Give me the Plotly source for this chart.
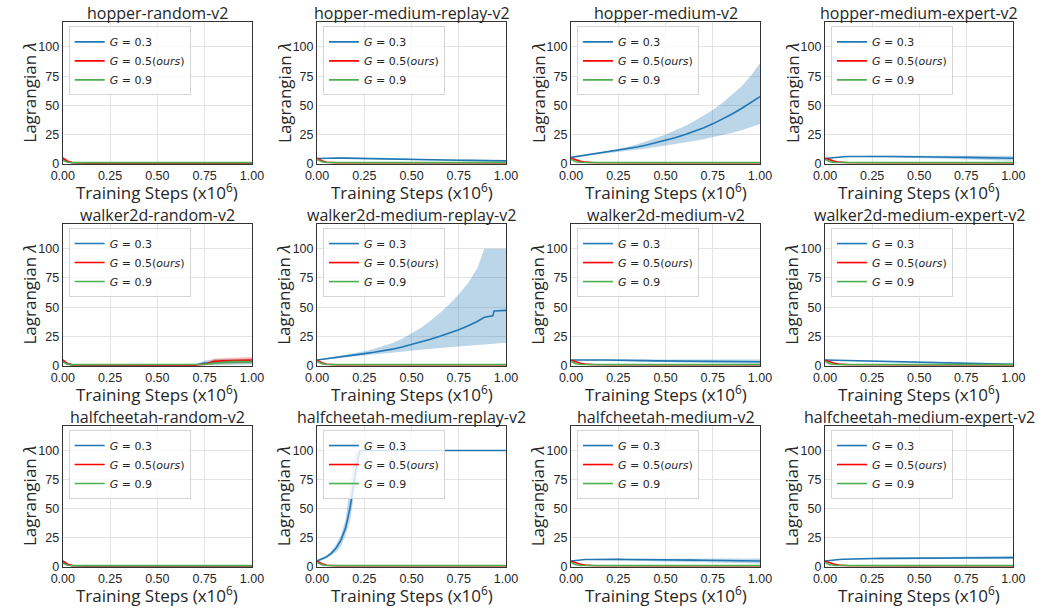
import plotly.graph_objects as go

# ---------------- data ----------------
X = [0.0, 0.025, 0.05, 0.075, 0.1, 0.125, 0.15, 0.175, 0.2, 0.225, 0.25, 0.3, 0.35,
     0.4, 0.45, 0.5, 0.55, 0.6, 0.65, 0.7, 0.75, 0.8, 0.85, 0.9, 0.95, 1.0]

X_TICKS = [0, 0.25, 0.5, 0.75, 1.0]
X_TICK_TEXT = ["0.00", "0.25", "0.50", "0.75", "1.00"]
Y_TICKS = [0, 25, 50, 75, 100]
Y_TICK_TEXT = ["0", "25", "50", "75", "100"]

TITLES = ["hopper-random-v2", "hopper-medium-replay-v2", "hopper-medium-v2", "hopper-medium-expert-v2",
          "walker2d-random-v2", "walker2d-medium-replay-v2", "walker2d-medium-v2", "walker2d-medium-expert-v2",
          "halfcheetah-random-v2", "halfcheetah-medium-replay-v2", "halfcheetah-medium-v2",
          "halfcheetah-medium-expert-v2"]
SERIES_NAMES = ["<i>G</i> = 0.3", "<i>G</i> = 0.5(<i>ours</i>)", "<i>G</i> = 0.9"]

# shared profiles for the quickly-decaying series
BLUE_RAND = [4.5, 2.0, 0.9, 0.6, 0.5, 0.5, 0.5, 0.5, 0.5, 0.5, 0.5, 0.5, 0.5,
             0.5, 0.5, 0.5, 0.5, 0.5, 0.5, 0.5, 0.5, 0.5, 0.5, 0.5, 0.5, 0.5]
RED_RAND = [5.0, 2.2, 1.0, 0.7, 0.6, 0.6, 0.6, 0.6, 0.6, 0.6, 0.6, 0.6, 0.6,
            0.6, 0.6, 0.6, 0.6, 0.6, 0.6, 0.6, 0.6, 0.6, 0.6, 0.6, 0.6, 0.6]
GREEN_RAND = [3.0, 1.3, 1.0, 1.0, 1.0, 1.0, 1.0, 1.0, 1.0, 1.0, 1.0, 1.0, 1.0,
              1.0, 1.0, 1.0, 1.0, 1.0, 1.0, 1.0, 1.0, 1.0, 1.0, 1.0, 1.0, 1.0]
RED_SLOW = [4.8, 3.3, 2.1, 1.4, 1.0, 0.9, 0.85, 0.8, 0.8, 0.8, 0.8, 0.8, 0.8,
            0.8, 0.8, 0.8, 0.8, 0.8, 0.8, 0.8, 0.8, 0.8, 0.8, 0.8, 0.8, 0.8]
RED_FAST = [4.8, 2.6, 1.3, 0.9, 0.8, 0.8, 0.8, 0.8, 0.8, 0.8, 0.8, 0.8, 0.8,
            0.8, 0.8, 0.8, 0.8, 0.8, 0.8, 0.8, 0.8, 0.8, 0.8, 0.8, 0.8, 0.8]
GREEN_STD = [3.8, 1.8, 1.1, 1.0, 1.0, 1.0, 1.0, 1.0, 1.0, 1.0, 1.0, 1.0, 1.0,
             1.0, 1.0, 1.0, 1.0, 1.0, 1.0, 1.0, 1.0, 1.0, 1.0, 1.0, 1.0, 1.0]

# hopper-medium-replay
hopper_mr_blue = [4.5, 4.7, 4.9, 5.0, 5.0, 5.0, 4.9, 4.8, 4.7, 4.6, 4.5, 4.3, 4.1,
                  3.9, 3.7, 3.6, 3.4, 3.3, 3.2, 3.1, 3.0, 2.9, 2.8, 2.7, 2.6, 2.5]
hopper_mr_blue_lo = [4.3, 4.4, 4.6, 4.7, 4.7, 4.7, 4.6, 4.5, 4.4, 4.3, 4.2, 4.0, 3.7,
                     3.5, 3.3, 3.1, 2.9, 2.8, 2.6, 2.5, 2.4, 2.3, 2.2, 2.1, 2.0, 1.9]
hopper_mr_blue_hi = [4.7, 5.0, 5.2, 5.3, 5.3, 5.3, 5.2, 5.1, 5.0, 4.9, 4.8, 4.6, 4.5,
                     4.3, 4.1, 4.1, 3.9, 3.8, 3.8, 3.7, 3.6, 3.5, 3.4, 3.3, 3.2, 3.1]
# hopper-medium
hopper_m_blue = [5.5, 6.1, 6.7, 7.3, 7.9, 8.5, 9.1, 9.7, 10.3, 10.9, 11.5, 12.9, 14.4,
                 16.1, 18.0, 20.0, 22.3, 24.8, 27.6, 30.7, 34.2, 38.1, 42.4, 47.1, 52.2, 57.5]
hopper_m_blue_lo = [5.4, 6.0, 6.5, 7.1, 7.6, 8.1, 8.6, 9.1, 9.6, 10.0, 10.4, 11.3, 12.2,
                    13.2, 14.3, 15.5, 16.8, 18.1, 19.5, 21.0, 22.6, 24.4, 26.4, 28.6, 31.1, 34.0]
hopper_m_blue_hi = [5.6, 6.2, 6.9, 7.5, 8.2, 8.9, 9.6, 10.3, 11.0, 11.8, 12.6, 14.5, 16.7,
                    19.2, 22.0, 25.0, 28.4, 32.2, 36.4, 41.0, 46.1, 52.0, 58.6, 66.0, 75.0, 86.0]
# hopper-medium-expert
hopper_me_blue = [4.5, 5.0, 5.5, 5.9, 6.1, 6.2, 6.3, 6.3, 6.3, 6.3, 6.3, 6.3, 6.2,
                  6.2, 6.1, 6.0, 5.9, 5.8, 5.7, 5.6, 5.5, 5.4, 5.2, 5.1, 5.0, 4.8]
hopper_me_blue_lo = [4.3, 4.8, 5.3, 5.7, 5.9, 6.0, 6.0, 6.0, 5.9, 5.9, 5.8, 5.7, 5.5,
                     5.4, 5.2, 5.0, 4.8, 4.6, 4.4, 4.2, 4.0, 3.8, 3.5, 3.3, 3.0, 2.7]
hopper_me_blue_hi = [4.7, 5.2, 5.7, 6.1, 6.3, 6.4, 6.6, 6.6, 6.7, 6.7, 6.8, 6.9, 6.9,
                     7.0, 7.0, 7.0, 7.0, 7.0, 7.0, 7.0, 7.0, 7.0, 6.9, 6.9, 7.0, 7.0]
# walker2d-random
walker_r_blue = [4.0, 1.6, 0.8, 0.6, 0.5, 0.5, 0.5, 0.5, 0.5, 0.5, 0.5, 0.5, 0.5,
                 0.5, 0.5, 0.5, 0.5, 0.5, 0.5, 0.7, 2.4, 3.2, 3.4, 3.5, 3.5, 3.5]
walker_r_blue_lo = [3.8, 1.4, 0.6, 0.4, 0.3, 0.3, 0.3, 0.3, 0.3, 0.3, 0.3, 0.3, 0.3,
                    0.3, 0.3, 0.3, 0.3, 0.3, 0.3, 0.4, 0.8, 1.0, 1.0, 1.0, 1.0, 1.0]
walker_r_blue_hi = [4.2, 1.8, 1.0, 0.8, 0.7, 0.7, 0.7, 0.7, 0.7, 0.7, 0.7, 0.7, 0.7,
                    0.7, 0.7, 0.7, 0.7, 0.7, 0.7, 1.2, 4.5, 5.5, 5.8, 6.0, 6.0, 6.0]
walker_r_red = [5.0, 1.8, 0.8, 0.6, 0.5, 0.5, 0.5, 0.5, 0.5, 0.5, 0.5, 0.5, 0.5,
                0.5, 0.5, 0.5, 0.5, 0.5, 0.5, 0.6, 1.2, 3.8, 4.3, 4.6, 4.7, 4.8]
walker_r_red_lo = [4.8, 1.6, 0.6, 0.4, 0.3, 0.3, 0.3, 0.3, 0.3, 0.3, 0.3, 0.3, 0.3,
                   0.3, 0.3, 0.3, 0.3, 0.3, 0.3, 0.4, 0.4, 1.5, 2.0, 2.3, 2.4, 2.5]
walker_r_red_hi = [5.2, 2.0, 1.0, 0.8, 0.7, 0.7, 0.7, 0.7, 0.7, 0.7, 0.7, 0.7, 0.7,
                   0.7, 0.7, 0.7, 0.7, 0.7, 0.7, 0.8, 2.0, 6.0, 6.6, 7.0, 7.3, 7.5]
walker_r_green = [3.5, 1.2, 1.0, 1.0, 1.0, 1.0, 1.0, 1.0, 1.0, 1.0, 1.0, 1.0, 1.0,
                  1.0, 1.0, 1.0, 1.0, 1.0, 1.0, 1.0, 1.3, 2.2, 3.0, 3.4, 3.5, 3.5]
walker_r_green_lo = [3.3, 1.0, 0.8, 0.8, 0.8, 0.8, 0.8, 0.8, 0.8, 0.8, 0.8, 0.8, 0.8,
                     0.8, 0.8, 0.8, 0.8, 0.8, 0.8, 0.8, 0.8, 1.0, 1.5, 1.8, 1.9, 2.0]
walker_r_green_hi = [3.7, 1.4, 1.2, 1.2, 1.2, 1.2, 1.2, 1.2, 1.2, 1.2, 1.2, 1.2, 1.2,
                     1.2, 1.2, 1.2, 1.2, 1.2, 1.2, 1.2, 1.8, 3.5, 4.5, 5.0, 5.1, 5.2]
# walker2d-medium-replay (own x grid because of the step)
walker_mr_x = [0.0, 0.05, 0.1, 0.15, 0.2, 0.25, 0.3, 0.35, 0.4, 0.45, 0.5, 0.55, 0.6,
               0.65, 0.7, 0.75, 0.8, 0.85, 0.885, 0.93, 0.937, 1.0]
walker_mr_blue = [5.0, 6.2, 7.3, 8.3, 9.3, 10.4, 11.5, 12.8, 14.2, 16.1, 18.2, 20.3, 22.6,
                  25.2, 27.9, 30.8, 34.2, 38.0, 41.5, 42.6, 46.8, 47.3]
walker_mr_blue_lo = [4.8, 5.8, 6.7, 7.5, 8.2, 9.0, 9.8, 10.6, 11.4, 12.2, 13.0, 13.8, 14.6,
                     15.3, 16.0, 16.7, 17.3, 17.9, 18.3, 18.8, 18.9, 19.6]
walker_mr_blue_hi = [5.2, 6.6, 8.0, 9.4, 10.8, 12.4, 14.3, 16.6, 19.4, 23.0, 27.5, 32.5, 38.5,
                     45.0, 52.5, 61.0, 71.0, 84.0, 100.0, 100.0, 100.0, 100.0]
# walker2d-medium
walker_m_blue = [5.0, 5.1, 5.2, 5.2, 5.2, 5.1, 5.0, 4.9, 4.9, 4.8, 4.8, 4.6, 4.5,
                 4.4, 4.2, 4.1, 4.0, 3.9, 3.9, 3.8, 3.8, 3.7, 3.7, 3.6, 3.6, 3.5]
walker_m_blue_lo = [4.8, 4.9, 5.0, 5.0, 4.9, 4.8, 4.7, 4.5, 4.4, 4.3, 4.2, 3.9, 3.7,
                    3.5, 3.2, 3.0, 2.8, 2.6, 2.5, 2.3, 2.2, 2.0, 1.9, 1.8, 1.7, 1.6]
walker_m_blue_hi = [5.2, 5.3, 5.4, 5.4, 5.5, 5.4, 5.3, 5.3, 5.4, 5.3, 5.4, 5.3, 5.3,
                    5.3, 5.2, 5.2, 5.2, 5.2, 5.3, 5.3, 5.4, 5.4, 5.5, 5.4, 5.5, 5.4]
# walker2d-medium-expert
walker_me_blue = [5.0, 4.9, 4.8, 4.7, 4.6, 4.5, 4.4, 4.3, 4.2, 4.1, 4.0, 3.8, 3.6,
                  3.4, 3.1, 2.9, 2.7, 2.5, 2.3, 2.1, 1.9, 1.7, 1.6, 1.4, 1.3, 1.2]
walker_me_blue_lo = [4.8, 4.7, 4.6, 4.5, 4.4, 4.3, 4.2, 4.1, 4.0, 3.9, 3.8, 3.6, 3.4,
                     3.2, 2.9, 2.7, 2.5, 2.3, 2.1, 1.9, 1.7, 1.5, 1.4, 1.2, 1.1, 1.0]
walker_me_blue_hi = [5.2, 5.1, 5.0, 4.9, 4.8, 4.7, 4.6, 4.5, 4.4, 4.3, 4.2, 4.0, 3.8,
                     3.6, 3.3, 3.1, 2.9, 2.7, 2.5, 2.3, 2.1, 1.9, 1.8, 1.6, 1.5, 1.4]
# halfcheetah-medium-replay
hc_mr_blue = [5.0, 6.5, 8.5, 11.5, 16.0, 22.5, 33.0, 51.0, 78.0, 100.0, 100.0, 100.0, 100.0,
              100.0, 100.0, 100.0, 100.0, 100.0, 100.0, 100.0, 100.0, 100.0, 100.0, 100.0, 100.0, 100.0]
hc_mr_blue_lo = [4.5, 5.7, 7.2, 9.5, 12.5, 17.5, 27.0, 40.0, 68.0, 94.0, 100.0, 100.0, 100.0,
                 100.0, 100.0, 100.0, 100.0, 100.0, 100.0, 100.0, 100.0, 100.0, 100.0, 100.0, 100.0, 100.0]
hc_mr_blue_hi = [5.5, 7.5, 10.0, 13.5, 19.0, 27.0, 40.0, 70.0, 98.0, 100.0, 100.0, 100.0, 100.0,
                 100.0, 100.0, 100.0, 100.0, 100.0, 100.0, 100.0, 100.0, 100.0, 100.0, 100.0, 100.0, 100.0]
# halfcheetah-medium
hc_m_blue = [5.0, 5.6, 6.0, 6.2, 6.3, 6.4, 6.4, 6.4, 6.4, 6.4, 6.4, 6.3, 6.3,
             6.2, 6.1, 6.0, 5.9, 5.8, 5.7, 5.6, 5.5, 5.4, 5.3, 5.2, 5.1, 5.0]
hc_m_blue_lo = [4.8, 5.4, 5.8, 6.0, 6.1, 6.1, 6.1, 6.0, 6.0, 5.9, 5.8, 5.6, 5.4,
                5.2, 5.0, 4.8, 4.6, 4.4, 4.2, 4.0, 3.8, 3.6, 3.4, 3.2, 3.0, 2.8]
hc_m_blue_hi = [5.2, 5.8, 6.2, 6.4, 6.5, 6.7, 6.7, 6.8, 6.8, 6.9, 7.0, 7.0, 7.2,
                7.2, 7.2, 7.2, 7.2, 7.2, 7.2, 7.2, 7.2, 7.2, 7.2, 7.2, 7.2, 7.2]
# halfcheetah-medium-expert
hc_me_blue = [5.0, 5.6, 6.0, 6.3, 6.5, 6.7, 6.8, 6.9, 7.0, 7.0, 7.1, 7.2, 7.2,
              7.3, 7.3, 7.4, 7.4, 7.5, 7.5, 7.6, 7.6, 7.7, 7.7, 7.8, 7.8, 7.9]
hc_me_blue_lo = [4.8, 5.4, 5.8, 6.1, 6.3, 6.5, 6.6, 6.6, 6.7, 6.7, 6.7, 6.8, 6.8,
                 6.8, 6.8, 6.8, 6.8, 6.8, 6.8, 6.8, 6.8, 6.8, 6.8, 6.8, 6.8, 6.8]
hc_me_blue_hi = [5.2, 5.8, 6.2, 6.5, 6.7, 6.9, 7.0, 7.2, 7.3, 7.3, 7.5, 7.6, 7.7,
                 7.8, 7.9, 8.0, 8.1, 8.2, 8.3, 8.5, 8.6, 8.8, 8.9, 9.1, 9.2, 9.4]

# per panel: (blue x, blue, lo, hi), (red, lo, hi), (green, lo, hi)
PANELS = [
    ((X, BLUE_RAND, None, None), (RED_RAND, None, None), (GREEN_RAND, None, None)),
    ((X, hopper_mr_blue, hopper_mr_blue_lo, hopper_mr_blue_hi), (RED_FAST, None, None), (GREEN_STD, None, None)),
    ((X, hopper_m_blue, hopper_m_blue_lo, hopper_m_blue_hi), (RED_SLOW, None, None), (GREEN_STD, None, None)),
    ((X, hopper_me_blue, hopper_me_blue_lo, hopper_me_blue_hi), (RED_SLOW, None, None), (GREEN_STD, None, None)),
    ((X, walker_r_blue, walker_r_blue_lo, walker_r_blue_hi), (walker_r_red, walker_r_red_lo, walker_r_red_hi),
     (walker_r_green, walker_r_green_lo, walker_r_green_hi)),
    ((walker_mr_x, walker_mr_blue, walker_mr_blue_lo, walker_mr_blue_hi), (RED_FAST, None, None), (GREEN_STD, None, None)),
    ((X, walker_m_blue, walker_m_blue_lo, walker_m_blue_hi), (RED_SLOW, None, None), (GREEN_STD, None, None)),
    ((X, walker_me_blue, walker_me_blue_lo, walker_me_blue_hi), (RED_SLOW, None, None), (GREEN_STD, None, None)),
    ((X, BLUE_RAND, None, None), (RED_RAND, None, None), (GREEN_RAND, None, None)),
    ((X, hc_mr_blue, hc_mr_blue_lo, hc_mr_blue_hi), (RED_FAST, None, None), (GREEN_STD, None, None)),
    ((X, hc_m_blue, hc_m_blue_lo, hc_m_blue_hi), (RED_SLOW, None, None), (GREEN_STD, None, None)),
    ((X, hc_me_blue, hc_me_blue_lo, hc_me_blue_hi), (RED_SLOW, None, None), (GREEN_STD, None, None)),
]

# ---------------- styling / layout ----------------
W, H = 1039, 614
COLS = [(52.0, 245.6), (312.3, 505.7), (572.3, 765.7), (832.3, 1025.0)]
ROWS = [(22.7, 165.7), (226.7, 370.0), (431.0, 573.3)]
LINE_COLORS = ["#1f77b4", "#ff0000", "#4caf50"]
BAND_COLORS = ["rgba(31,119,180,0.3)", "rgba(255,0,0,0.25)", "rgba(76,175,80,0.3)"]
TXT = "#262626"


def px(x):
    return x / W


def py(y):
    return 1 - y / H


fig = go.Figure()
annotations = []
layout = dict(width=W, height=H, margin=dict(l=0, r=0, t=0, b=0),
              paper_bgcolor="white", plot_bgcolor="white", showlegend=True)

for i, (blue, red, green) in enumerate(PANELS):
    k = i + 1
    r, c = divmod(i, 4)
    x0, x1 = COLS[c]
    y0, y1 = ROWS[r]
    xa = "x" if k == 1 else f"x{k}"
    ya = "y" if k == 1 else f"y{k}"
    leg = "legend" if k == 1 else f"legend{k}"

    series = [(blue[0], blue[1], blue[2], blue[3]),
              (X, red[0], red[1], red[2]),
              (X, green[0], green[1], green[2])]
    for s, (xs, ys, lo, hi) in enumerate(series):
        if lo is not None:
            fig.add_trace(go.Scatter(
                x=list(xs) + list(xs)[::-1], y=list(hi) + list(lo)[::-1],
                fill="toself", fillcolor=BAND_COLORS[s], line=dict(width=0),
                mode="lines", hoverinfo="skip", showlegend=False, xaxis=xa, yaxis=ya))
        fig.add_trace(go.Scatter(
            x=xs, y=ys, mode="lines", name=SERIES_NAMES[s],
            line=dict(color=LINE_COLORS[s], width=1.6),
            legend=leg, showlegend=True, xaxis=xa, yaxis=ya))

    axis_common = dict(showgrid=True, gridcolor="#e3e3e3", gridwidth=1,
                       showline=True, linecolor="#333333", linewidth=1.2, mirror=True,
                       ticks="", zeroline=False,
                       tickfont=dict(family="Liberation Sans, Arial", size=12.5, color=TXT))
    layout["xaxis" if k == 1 else f"xaxis{k}"] = dict(
        axis_common, domain=[px(x0), px(x1)], anchor=ya, range=[0, 1],
        tickvals=X_TICKS, ticktext=X_TICK_TEXT)
    layout["yaxis" if k == 1 else f"yaxis{k}"] = dict(
        axis_common, domain=[py(y1), py(y0)], anchor=xa, range=[0, 121],
        tickvals=Y_TICKS, ticktext=Y_TICK_TEXT)

    layout[leg] = dict(x=px(x0 + 6), y=py(y0 + 4), xanchor="left", yanchor="top",
                       bgcolor="rgba(255,255,255,0.8)", bordercolor="#d5d5d5", borderwidth=1,
                       font=dict(family="DejaVu Sans", size=11, color=TXT),
                       itemwidth=30, tracegroupgap=0)

    # subplot title
    annotations.append(dict(text=TITLES[i], x=px((x0 + x1) / 2), y=py(y0 + 4),
                            xref="paper", yref="paper", xanchor="center", yanchor="bottom",
                            showarrow=False, font=dict(family="Open Sans", size=16, color=TXT)))
    # x label
    annotations.append(dict(text="Training Steps (x10<sup>6</sup>)", x=px((x0 + x1) / 2),
                            y=py(y1 + 28), xref="paper", yref="paper",
                            xanchor="center", yanchor="middle", showarrow=False,
                            font=dict(family="Open Sans", size=17, color=TXT)))
    # y label
    annotations.append(dict(text="Lagrangian <i>λ</i>", x=px(x0 - 34), y=py((y0 + y1) / 2),
                            xref="paper", yref="paper", xanchor="center", yanchor="middle",
                            textangle=-90, showarrow=False,
                            font=dict(family="Open Sans", size=17, color=TXT)))

layout["annotations"] = annotations
fig.update_layout(**layout)
fig.write_html("out.html")
